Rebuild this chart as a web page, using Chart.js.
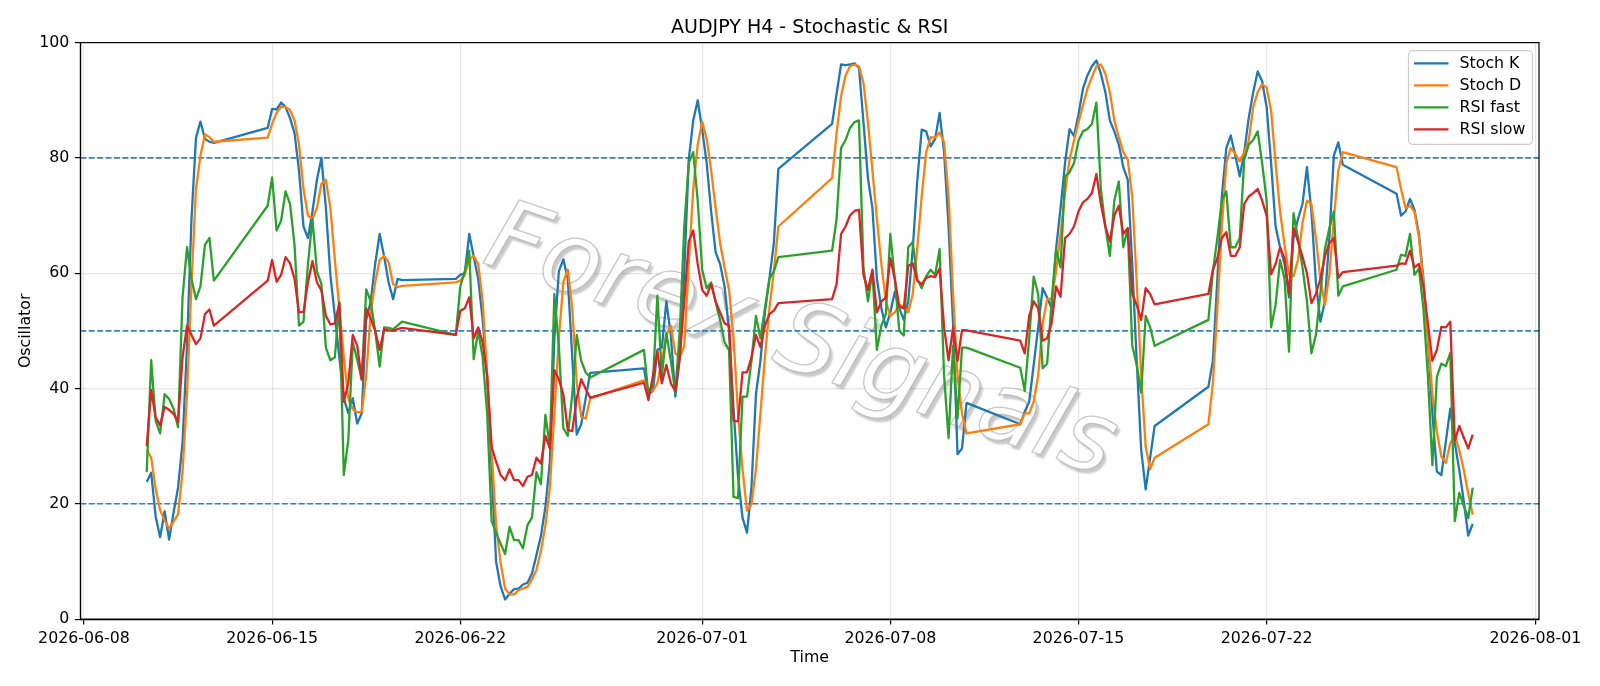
<!DOCTYPE html>
<html>
<head>
<meta charset="utf-8">
<script src="https://cdn.jsdelivr.net/npm/chart.js@4.4.1/dist/chart.umd.min.js"></script>
<style>
  html, body { margin: 0; padding: 0; background: #fff; }
  #wrap { width: 1600px; height: 686px; }
</style>
</head>
<body>
<div id="wrap"><canvas id="osc" width="1600" height="686"></canvas></div>
<script>
// H4 bars: [first bar of the trading week, number of bars]
const sessions = [
  ["2026-06-10T08:00", 16],
  ["2026-06-14T20:00", 31],
  ["2026-06-21T20:00", 31],
  ["2026-06-28T20:00", 31],
  ["2026-07-05T20:00", 31],
  ["2026-07-12T20:00", 31],
  ["2026-07-19T20:00", 31],
  ["2026-07-26T20:00", 18],
];

const tickLabels = ["2026-06-08", "2026-06-15", "2026-06-22", "2026-07-01",
  "2026-07-08", "2026-07-15", "2026-07-22", "2026-08-01"];
const yTicks = [0, 20, 40, 60, 80, 100];
const levels = [20, 50, 80];

const stochK = [
  23.8, 25.4, 17.8, 14.2, 18.7, 13.8, 18.5, 22.8, 30.6, 47.4, 69.4, 83.5, 86.3, 83.3, 82.8, 82.6,
  85.2, 88.5, 88.4, 89.6, 88.8, 86.9, 84.3, 77.8, 68.1, 66.1, 70.7, 76.2, 80.0, 71.3, 59.7, 52.6,
  45.4, 38.3, 35.7, 38.3, 33.9, 35.7, 51.9, 55.1, 61.6, 66.8, 62.9, 58.4, 55.5, 59.0, 58.8,
  59.0, 59.7, 60.0, 66.8, 62.9, 59.0, 51.9, 42.2, 26.0, 9.9, 5.7, 3.4, 4.4, 5.2, 5.3, 6.0,
  6.3, 7.9, 11.1, 14.4, 19.5, 27.3, 48.7, 60.3, 62.4, 59.0, 45.4, 32.0, 33.8, 38.3, 42.7,
  43.5, 39.0, 39.6, 46.7, 47.1, 55.1, 49.3, 38.6, 45.4, 60.3, 79.7, 86.5, 90.0, 84.9, 79.1, 70.7,
  63.6, 61.6, 57.7, 50.0, 36.4, 24.7, 17.6, 15.0, 22.8, 39.0, 44.8, 53.2, 59.0, 65.2, 78.1,
  85.9, 91.1, 96.2, 96.1, 96.2, 96.4, 95.6, 86.2, 76.5, 71.3, 59.0, 53.9, 50.6, 53.2, 56.8, 53.9,
  51.9, 55.1, 64.2, 75.9, 84.9, 84.6, 82.0, 83.3, 87.8, 81.0, 68.1, 51.3, 28.6, 29.6, 37.5,
  33.8, 36.0, 37.7, 44.1, 50.6, 57.4, 55.8, 53.9, 64.2, 71.3, 79.1, 85.0, 83.8, 87.5, 92.0, 94.3,
  95.9, 96.9, 94.6, 91.4, 86.5, 84.6, 82.3, 78.4, 76.2, 61.6, 44.8, 29.3, 22.5, 28.0, 33.5,
  40.3, 44.8, 59.0, 73.3, 81.7, 83.9, 80.4, 76.8, 81.0, 86.9, 91.4, 95.0, 93.3, 88.8, 79.1, 68.1,
  64.5, 61.6, 55.8, 66.1, 69.4, 72.0, 78.4, 70.7, 58.4, 51.6, 55.1, 66.1, 80.4, 82.7, 78.8,
  73.8, 70.0, 70.7, 72.9, 71.0, 66.8, 59.0, 48.7, 35.7, 25.6, 25.0, 30.8, 36.5, 30.6, 25.9, 20.5,
  14.5, 16.5,
];

const stochD = [
  29.4, 28.0, 22.6, 18.9, 17.1, 15.7, 16.9, 18.2, 25.5, 39.0, 58.4, 74.6, 80.4, 84.1, 83.6, 82.8,
  83.5, 85.9, 87.8, 88.9, 88.8, 88.3, 86.5, 82.3, 74.6, 70.0, 69.4, 71.3, 75.5, 76.2, 71.3, 62.3,
  53.9, 45.4, 38.3, 36.4, 35.9, 35.9, 42.2, 53.2, 58.4, 62.3, 63.0, 61.9, 58.1, 57.6, 57.8,
  58.4, 58.7, 59.7, 62.3, 63.0, 61.6, 55.1, 42.2, 29.2, 16.3, 9.8, 5.3, 4.3, 4.3, 5.0, 5.3,
  5.6, 6.9, 8.5, 11.8, 16.3, 22.8, 35.7, 48.7, 58.4, 60.6, 53.9, 40.9, 35.1, 34.8, 38.3,
  41.4, 39.6, 39.6, 40.9, 44.8, 49.3, 50.9, 46.1, 45.4, 47.4, 61.6, 74.6, 82.3, 86.3, 83.3, 77.8,
  71.3, 65.2, 61.0, 57.1, 48.7, 35.7, 26.0, 18.8, 19.9, 26.0, 35.7, 45.4, 53.9, 60.3, 68.1,
  76.5, 84.3, 90.7, 94.3, 95.9, 96.2, 95.9, 93.0, 86.2, 77.8, 69.4, 61.6, 55.1, 52.6, 53.2, 54.5,
  54.2, 53.2, 56.4, 64.2, 73.3, 81.0, 83.6, 83.5, 84.4, 82.7, 73.3, 56.4, 42.2, 35.7, 32.2,
  33.8, 35.7, 35.7, 37.7, 42.2, 51.3, 55.5, 55.5, 60.3, 66.8, 73.9, 79.7, 83.0, 86.2, 89.1, 92.0,
  94.0, 95.9, 96.2, 94.6, 91.4, 86.5, 83.6, 81.0, 79.7, 73.3, 58.4, 42.2, 29.9, 26.0, 28.0,
  33.8, 40.9, 53.9, 68.1, 79.1, 81.7, 80.7, 79.4, 81.0, 83.0, 88.8, 91.4, 92.8, 92.2, 88.2, 79.1,
  70.7, 64.9, 59.7, 59.5, 62.3, 68.7, 72.6, 72.0, 66.1, 59.0, 54.5, 59.7, 69.4, 77.8, 81.0,
  78.4, 74.6, 71.3, 71.7, 70.7, 66.1, 58.4, 48.7, 39.0, 32.5, 28.2, 27.1, 30.5, 31.9, 29.3, 25.9,
  21.8, 18.1,
];

const rsiFast = [
  25.5, 44.9, 34.4, 32.2, 39.0, 38.2, 36.5, 33.3, 55.8, 64.5, 59.0, 55.5, 57.7, 64.9, 66.1, 58.7,
  71.7, 76.6, 67.4, 69.1, 74.2, 72.0, 64.9, 50.9, 51.6, 61.6, 69.4, 60.3, 58.1, 47.1, 44.9, 45.4,
  55.0, 25.0, 31.0, 48.0, 45.0, 41.5, 57.2, 55.1, 50.0, 43.8, 50.6, 50.5, 50.3, 50.9, 51.6,
  49.3, 57.7, 60.3, 63.9, 45.1, 50.0, 45.4, 35.7, 17.0, 15.0, 13.1, 11.3, 16.0, 13.7, 13.7, 12.3,
  16.3, 17.6, 25.5, 23.4, 35.4, 29.9, 56.4, 47.4, 33.1, 31.8, 39.0, 49.3, 44.8, 42.8, 41.9,
  46.7, 39.0, 40.9, 56.1, 42.2, 49.6, 44.8, 39.3, 50.0, 68.1, 79.1, 81.0, 72.6, 60.6, 57.4, 58.4,
  55.1, 51.9, 48.0, 46.7, 21.2, 21.0, 38.6, 38.6, 44.8, 52.6, 48.7, 53.9, 59.0, 60.3, 62.8,
  63.9, 69.4, 81.7, 83.1, 85.2, 86.2, 86.5, 61.0, 55.1, 60.3, 46.7, 50.9, 52.9, 66.8, 59.0, 50.0,
  49.2, 64.5, 65.4, 59.0, 57.4, 59.5, 60.6, 59.7, 64.2, 42.2, 31.4, 47.4, 34.8, 47.1, 47.1,
  43.6, 39.6, 48.7, 59.4, 56.4, 43.5, 44.3, 55.1, 64.2, 61.0, 76.8, 77.5, 79.1, 83.0, 84.6, 85.0,
  85.9, 89.6, 74.6, 68.1, 63.0, 72.6, 75.9, 64.5, 67.8, 47.4, 44.1, 39.3, 52.6, 50.6, 47.4,
  51.9, 60.3, 66.1, 72.6, 74.2, 64.5, 64.5, 66.1, 79.7, 82.3, 83.1, 84.6, 79.1, 72.6, 50.6, 54.5,
  62.3, 59.0, 46.4, 70.4, 66.1, 61.0, 55.1, 46.1, 49.3, 56.4, 64.2, 67.8, 70.7, 56.1, 57.7,
  60.6, 63.2, 63.0, 66.8, 59.7, 60.8, 53.9, 42.2, 26.7, 42.0, 44.3, 43.9, 46.2, 17.0, 21.9, 19.7,
  17.5, 22.8,
];

const rsiSlow = [
  30.0, 39.7, 35.0, 33.6, 36.8, 36.3, 35.6, 34.2, 45.4, 50.9, 49.3, 47.7, 48.7, 52.9, 53.7, 50.9,
  58.7, 62.3, 58.5, 59.7, 62.8, 61.7, 59.0, 53.2, 53.3, 58.4, 62.1, 58.4, 57.0, 52.6, 51.1, 51.3,
  54.8, 37.7, 40.9, 49.3, 47.4, 41.6, 53.9, 52.2, 50.0, 46.7, 50.3, 50.1, 50.0, 50.3, 50.5,
  49.3, 53.5, 53.9, 55.8, 48.7, 50.6, 48.0, 42.2, 29.9, 27.3, 25.0, 24.1, 26.0, 24.1, 24.1, 23.1,
  24.7, 25.0, 28.0, 27.0, 31.8, 29.6, 43.2, 41.6, 39.0, 32.8, 32.6, 38.3, 41.6, 39.9, 38.4,
  41.0, 38.0, 42.2, 46.4, 40.9, 44.1, 40.9, 39.6, 45.4, 55.1, 65.5, 67.4, 61.6, 57.1, 56.1, 58.1,
  55.1, 53.2, 51.3, 50.9, 34.4, 34.3, 42.8, 42.8, 45.4, 49.3, 47.2, 50.9, 52.9, 53.5, 54.8,
  55.5, 58.1, 66.8, 68.1, 70.0, 70.8, 71.0, 59.7, 57.1, 60.6, 53.2, 55.1, 55.8, 62.6, 59.0, 54.2,
  53.9, 61.3, 61.7, 58.7, 58.1, 59.2, 59.5, 59.3, 60.8, 50.6, 44.9, 50.6, 44.8, 50.1, 50.1,
  48.3, 46.1, 52.6, 55.1, 53.9, 48.3, 48.7, 51.3, 57.7, 55.9, 66.1, 66.8, 68.1, 70.7, 72.3, 72.9,
  73.9, 77.2, 72.0, 68.1, 65.5, 70.0, 71.7, 66.8, 67.8, 56.4, 54.5, 51.9, 57.4, 56.4, 54.6,
  56.4, 60.6, 62.6, 66.1, 67.1, 63.0, 63.0, 64.5, 72.0, 73.3, 73.9, 74.6, 72.6, 70.0, 59.8, 61.6,
  64.5, 62.6, 56.4, 67.8, 65.5, 62.9, 60.0, 54.8, 56.4, 59.0, 62.9, 65.2, 66.1, 59.2, 60.2,
  61.3, 61.7, 61.6, 63.9, 61.0, 61.6, 57.7, 51.3, 44.8, 46.7, 50.7, 50.6, 51.6, 30.9, 33.5, 31.5,
  29.6, 32.0,
];

const FONT = "'DejaVu Sans', 'Liberation Sans', sans-serif";
const H4 = 4 * 3600 * 1000;

function utc(s) {
  return Date.parse(s.length > 10 ? s + ":00Z" : s + "T00:00:00Z");
}

function buildTimes() {
  const out = [];
  sessions.forEach(([start, count]) => {
    const t0 = utc(start);
    for (let k = 0; k < count; k++) out.push(t0 + k * H4);
  });
  return out;
}

const times = buildTimes();
const tickValues = tickLabels.map(utc);
const span = times[times.length - 1] - times[0];
const xMin = times[0] - span * 0.05;
const xMax = times[times.length - 1] + span * 0.05;

function toPoints(values) {
  return values.map((v, i) => ({ x: times[i], y: v }));
}

const seriesDefs = [
  { label: "Stoch K", data: stochK, color: "#1f77b4" },
  { label: "Stoch D", data: stochD, color: "#ff7f0e" },
  { label: "RSI fast", data: rsiFast, color: "#2ca02c" },
  { label: "RSI slow", data: rsiSlow, color: "#d62728" },
];

// watermark + dashed levels under the lines
const underlay = {
  id: "underlay",
  beforeDatasetsDraw(chart) {
    const { ctx, chartArea: a, scales } = chart;
    ctx.save();
    ctx.beginPath();
    ctx.rect(a.left, a.top, a.right - a.left, a.bottom - a.top);
    ctx.clip();

    ctx.translate(800, 345);
    ctx.rotate(19 * Math.PI / 180);
    ctx.font = "italic 98px " + FONT;
    ctx.textAlign = "center";
    ctx.textBaseline = "middle";
    ctx.shadowColor = "rgba(0,0,0,0.22)";
    ctx.shadowOffsetX = 3;
    ctx.shadowOffsetY = 4;
    ctx.shadowBlur = 2;
    ctx.fillStyle = "rgba(255,255,255,0.97)";
    ctx.fillText("Forex Signals", 0, 0);
    ctx.shadowColor = "transparent";
    ctx.strokeStyle = "rgba(175,175,175,0.7)";
    ctx.lineWidth = 1.3;
    ctx.strokeText("Forex Signals", 0, 0);
    ctx.restore();

    ctx.save();
    ctx.strokeStyle = "rgba(31,119,180,0.9)";
    ctx.lineWidth = 1.6;
    ctx.setLineDash([5.9, 2.5]);
    levels.forEach((lv) => {
      const y = scales.y.getPixelForValue(lv);
      ctx.beginPath();
      ctx.moveTo(a.left, y);
      ctx.lineTo(a.right, y);
      ctx.stroke();
    });
    ctx.restore();
  },
};

// frame, titles and legend on top
const overlay = {
  id: "overlay",
  afterDraw(chart) {
    const { ctx, chartArea: a } = chart;
    ctx.save();
    ctx.strokeStyle = "#000";
    ctx.lineWidth = 1.2;
    ctx.strokeRect(a.left, a.top, a.right - a.left, a.bottom - a.top);

    ctx.fillStyle = "#000";
    ctx.textAlign = "center";
    ctx.font = "19px " + FONT;
    ctx.textBaseline = "alphabetic";
    ctx.fillText("AUDJPY H4 - Stochastic & RSI", (a.left + a.right) / 2, 33.3);

    ctx.font = "15.8px " + FONT;
    ctx.textBaseline = "middle";
    ctx.fillText("Time", (a.left + a.right) / 2, 658);
    ctx.save();
    ctx.translate(25.5, (a.top + a.bottom) / 2);
    ctx.rotate(-Math.PI / 2);
    ctx.fillText("Oscillator", 0, 0);
    ctx.restore();

    // legend box
    const bx = 1408.5, by = 50.7, bw = 124, bh = 93.6, r = 4;
    ctx.beginPath();
    ctx.moveTo(bx + r, by);
    ctx.arcTo(bx + bw, by, bx + bw, by + bh, r);
    ctx.arcTo(bx + bw, by + bh, bx, by + bh, r);
    ctx.arcTo(bx, by + bh, bx, by, r);
    ctx.arcTo(bx, by, bx + bw, by, r);
    ctx.closePath();
    ctx.fillStyle = "rgba(255,255,255,0.8)";
    ctx.fill();
    ctx.strokeStyle = "#cccccc";
    ctx.lineWidth = 1.2;
    ctx.stroke();

    ctx.textAlign = "left";
    seriesDefs.forEach((s, i) => {
      const y = 63.3 + i * 22;
      ctx.strokeStyle = s.color;
      ctx.lineWidth = 2.3;
      ctx.beginPath();
      ctx.moveTo(1414, y);
      ctx.lineTo(1448.5, y);
      ctx.stroke();
      ctx.fillStyle = "#000";
      ctx.fillText(s.label, 1459.5, y + 0.5);
    });
    ctx.restore();
  },
};

Chart.defaults.font.family = FONT;
Chart.defaults.font.size = 15.8;
Chart.defaults.color = "#000";

const gridStyle = {
  color: "rgba(176,176,176,0.32)",
  lineWidth: 1.2,
  tickColor: "#000",
  tickLength: 5.5,
  tickWidth: 1.2,
};

new Chart(document.getElementById("osc").getContext("2d"), {
  type: "line",
  data: {
    datasets: seriesDefs.map((s, i) => ({
      label: s.label,
      data: toPoints(s.data),
      borderColor: s.color,
      backgroundColor: s.color,
      borderWidth: 2.3,
      borderJoinStyle: "round",
      pointRadius: 0,
      tension: 0,
      fill: false,
      order: seriesDefs.length - i,
    })),
  },
  options: {
    responsive: false,
    animation: false,
    devicePixelRatio: 1,
    parsing: false,
    layout: { padding: { top: 42.6, right: 61, bottom: 0, left: 0 } },
    plugins: {
      legend: { display: false },
      tooltip: { enabled: false },
      title: { display: false },
    },
    scales: {
      x: {
        type: "linear",
        min: xMin,
        max: xMax,
        afterBuildTicks(scale) {
          scale.ticks = tickValues.map((v) => ({ value: v }));
        },
        afterFit(scale) {
          scale.height = 686 - 619.1;
        },
        ticks: {
          autoSkip: false,
          maxRotation: 0,
          padding: 4.5,
          callback: (v, i) => tickLabels[i],
        },
        grid: gridStyle,
        border: { color: "#000", width: 1.2 },
      },
      y: {
        min: 0,
        max: 100,
        afterBuildTicks(scale) {
          scale.ticks = yTicks.map((v) => ({ value: v }));
        },
        afterFit(scale) {
          scale.width = 80.4;
        },
        ticks: { padding: 5.5 },
        grid: gridStyle,
        border: { color: "#000", width: 1.2 },
      },
    },
  },
  plugins: [underlay, overlay],
});
</script>
</body>
</html>
